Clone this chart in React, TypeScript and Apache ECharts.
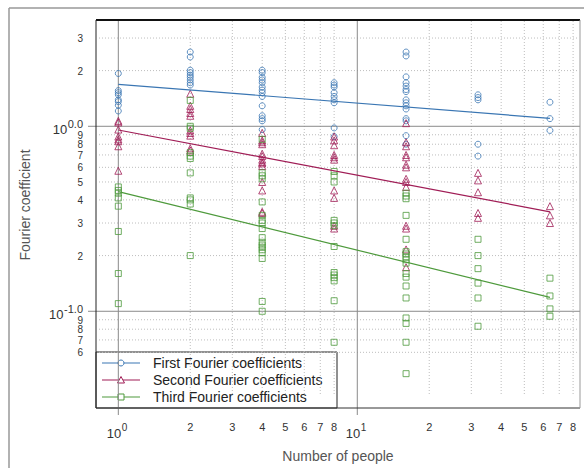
import React, { useEffect, useRef } from "react";
import * as echarts from "echarts";

// ---------- data ----------
const people = [1, 2, 4, 8, 16, 32, 64];

const firstCoef: number[][] = [
  [1.93, 1.56, 1.52, 1.48, 1.39, 1.36, 1.3, 1.21],
  [2.52, 2.37, 2.01, 1.95, 1.89, 1.84, 1.78, 1.72, 1.67],
  [2.01, 1.95, 1.84, 1.78, 1.72, 1.63, 1.57, 1.52, 1.45, 1.29, 1.14, 1.1, 1.07, 0.96],
  [1.72, 1.67, 1.63, 1.52, 1.45, 1.39, 1.34, 0.98, 0.88],
  [2.52, 2.4, 1.85, 1.72, 1.65, 1.58, 1.54, 1.39, 1.34, 1.29, 1.24, 1.1, 1.07, 0.89, 0.8],
  [1.48, 1.43, 1.39, 0.8, 0.69],
  [1.35, 1.1, 0.95],
];

const secondCoef: number[][] = [
  [1.07, 1.05, 0.96, 0.88, 0.85, 0.83, 0.78, 0.575],
  [1.5, 1.29, 1.24, 1.18, 1.14, 0.95, 0.92, 0.89, 0.76, 0.74],
  [0.92, 0.84, 0.82, 0.8, 0.71, 0.69, 0.66, 0.64, 0.63, 0.61, 0.5, 0.45, 0.345, 0.34],
  [0.88, 0.84, 0.79, 0.7, 0.68, 0.66, 0.45, 0.41, 0.29, 0.28],
  [1.04, 0.82, 0.78, 0.7, 0.68, 0.62, 0.6, 0.52, 0.5, 0.47, 0.29, 0.28, 0.216, 0.173],
  [0.56, 0.51, 0.44, 0.34, 0.32],
  [0.37, 0.33, 0.3],
];

const thirdCoef: number[][] = [
  [0.47, 0.45, 0.435, 0.41, 0.37, 0.27, 0.16, 0.11],
  [1.38, 1.0, 0.975, 0.72, 0.69, 0.67, 0.56, 0.41, 0.4, 0.38, 0.2],
  [0.85, 0.56, 0.54, 0.52, 0.39, 0.33, 0.31, 0.3, 0.28, 0.25, 0.236, 0.228, 0.222, 0.215, 0.207, 0.193, 0.113, 0.1],
  [0.57, 0.54, 0.5, 0.31, 0.3, 0.29, 0.224, 0.162, 0.157, 0.152, 0.146, 0.114, 0.068],
  [0.435, 0.42, 0.406, 0.33, 0.245, 0.21, 0.204, 0.197, 0.19, 0.182, 0.16, 0.153, 0.137, 0.118, 0.092, 0.086, 0.068, 0.046],
  [0.245, 0.2, 0.17, 0.142, 0.118, 0.083],
  [0.151, 0.121, 0.103, 0.094],
];

const fitX = [1, 64];
const firstFit = [1.687, 1.104];
const secondFit = [0.955, 0.345];
const thirdFit = [0.443, 0.119];

const seriesNames = [
  "First Fourier coefficients",
  "Second Fourier coefficients",
  "Third Fourier coefficients",
];

const xMinorTicks = [2, 3, 4, 5, 6, 7, 8, 20, 30, 40, 50, 60, 70, 80];
const xMinorLabels = ["2", "3", "4", "5", "6", "7", "8", "2", "3", "4", "5", "6", "7", "8"];
const xMajorTicks = [1, 10];
const xMajorExp = ["0", "1"];

const yMinorTicks = [3, 2, 0.9, 0.8, 0.7, 0.6, 0.5, 0.4, 0.3, 0.2, 0.09, 0.08, 0.07, 0.06];
const yMinorLabels = ["3", "2", "9", "8", "7", "6", "5", "4", "3", "2", "9", "8", "7", "6"];
const yMajorTicks = [1, 0.1];
const yMajorExp = ["0.0", "-1.0"];

const X_MIN = 0.8065;
const X_MAX = 85.5;
const Y_MIN = 0.03;
const Y_MAX = 3.755;
const DOTTED_FLOOR = 0.035;

// ---------- style ----------
const W = 584;
const H = 468;
const GRID = { left: 96, top: 20, right: 4, bottom: 60 };
const FONT = '"Liberation Sans", Arial, Helvetica, sans-serif';
const COLORS = ["#3a76b3", "#a01d56", "#4e9a3c"];
const SYMBOLS = ["circle", "triangle", "rect"];
const SYMBOL_SIZES = [6, 7, 6];
const TXT = "#333";
const MAJOR = "#8a8a8a";
const DOT = "#bdbdbd";

const charW: Record<string, number> = { "0": 0.556, "1": 0.556, ".": 0.278, "-": 0.333 };
const approxWidth = (s: string, size: number) =>
  s.split("").reduce((a, c) => a + (charW[c] ?? 0.556), 0) * size;

function textEl(text: string, x: number, y: number, size: number, align: string, vAlign = "middle", fill = TXT) {
  return {
    type: "text",
    style: {
      text,
      x,
      y,
      font: `${size}px ${FONT}`,
      fontSize: size,
      fontFamily: FONT,
      fill,
      align,
      verticalAlign: vAlign,
      textAlign: align,
      textVerticalAlign: vAlign,
    },
  };
}

function flatten(coef: number[][]) {
  const out: number[][] = [];
  people.forEach((x, i) => coef[i].forEach((v) => out.push([x, v])));
  return out;
}

export default function App() {
  const ref = useRef<HTMLDivElement>(null);

  useEffect(() => {
    if (!ref.current) return;
    const chart = echarts.init(ref.current, undefined, { renderer: "svg", width: W, height: H });

    const plotL = GRID.left;
    const plotT = GRID.top;
    const plotR = W - GRID.right;
    const plotB = H - GRID.bottom;

    const coefs = [firstCoef, secondCoef, thirdCoef];
    const fits = [firstFit, secondFit, thirdFit];

    const scatterSeries = coefs.map((c, i) => ({
      type: "scatter",
      name: seriesNames[i],
      data: flatten(c),
      symbol: SYMBOLS[i],
      symbolSize: SYMBOL_SIZES[i],
      itemStyle: { color: "rgba(0,0,0,0)", borderColor: COLORS[i], borderWidth: 1 },
      z: 3,
      silent: true,
    }));

    const lineSeries = fits.map((f, i) => ({
      type: "line",
      name: seriesNames[i] + " fit",
      data: fitX.map((x, j) => [x, f[j]]),
      symbol: "none",
      showSymbol: false,
      lineStyle: { color: COLORS[i], width: 1.2 },
      z: 4,
      silent: true,
    }));

    const xMinorSeries = {
      type: "custom",
      clip: false,
      silent: true,
      z: 1,
      data: xMinorTicks.map((v) => [v, 1]),
      renderItem: (params: any, api: any) => {
        const cs = params.coordSys;
        const p = api.coord([api.value(0), 1]);
        const floor = api.coord([api.value(0), DOTTED_FLOOR])[1];
        return {
          type: "group",
          children: [
            {
              type: "line",
              shape: { x1: p[0], y1: cs.y + 1, x2: p[0], y2: floor },
              style: { stroke: DOT, lineWidth: 1, lineDash: [1, 2] },
            },
            textEl(xMinorLabels[params.dataIndex], p[0], cs.y + cs.height + 19, 11, "center"),
          ],
        };
      },
    };

    const xMajorSeries = {
      type: "custom",
      clip: false,
      silent: true,
      z: 1,
      data: xMajorTicks.map((v) => [v, 1]),
      renderItem: (params: any, api: any) => {
        const cs = params.coordSys;
        const p = api.coord([api.value(0), 1]);
        return {
          type: "group",
          children: [
            {
              type: "line",
              shape: { x1: p[0], y1: cs.y, x2: p[0], y2: cs.y + cs.height + 7 },
              style: { stroke: MAJOR, lineWidth: 1 },
            },
            textEl("10", p[0] + 3, cs.y + cs.height + 25, 13, "right"),
            textEl(xMajorExp[params.dataIndex], p[0] + 3.5, cs.y + cs.height + 19, 10, "left"),
          ],
        };
      },
    };

    const yMinorSeries = {
      type: "custom",
      clip: false,
      silent: true,
      z: 1,
      data: yMinorTicks.map((v) => [1, v]),
      renderItem: (params: any, api: any) => {
        const cs = params.coordSys;
        const p = api.coord([1, api.value(1)]);
        return {
          type: "group",
          children: [
            {
              type: "line",
              shape: { x1: cs.x + 3, y1: p[1], x2: cs.x + cs.width - 3, y2: p[1] },
              style: { stroke: DOT, lineWidth: 1, lineDash: [1, 2] },
            },
            textEl(yMinorLabels[params.dataIndex], cs.x - 13, p[1] + 0.5, 10, "right"),
          ],
        };
      },
    };

    const yMajorSeries = {
      type: "custom",
      clip: false,
      silent: true,
      z: 1,
      data: yMajorTicks.map((v) => [1, v]),
      renderItem: (params: any, api: any) => {
        const cs = params.coordSys;
        const p = api.coord([1, api.value(1)]);
        const exp = yMajorExp[params.dataIndex];
        const supSize = 11;
        const supLeft = cs.x - 13 - approxWidth(exp, supSize);
        return {
          type: "group",
          children: [
            {
              type: "line",
              shape: { x1: cs.x - 8, y1: p[1], x2: cs.x + cs.width, y2: p[1] },
              style: { stroke: MAJOR, lineWidth: 1 },
            },
            textEl("10", supLeft - 0.5, p[1] + 3.5, 13, "right"),
            textEl(exp, supLeft, p[1] - 2, supSize, "left"),
          ],
        };
      },
    };

    // legend (drawn as graphic)
    const legL = plotL;
    const legT = 352;
    const legR = 337;
    const legRows = [363, 380, 397];
    const legendChildren: any[] = [
      {
        type: "rect",
        shape: { x: legL, y: legT, width: legR - legL, height: plotB - legT },
        style: { fill: "#fff", stroke: "#222", lineWidth: 1 },
      },
    ];
    legRows.forEach((y, i) => {
      const c = COLORS[i];
      legendChildren.push({
        type: "line",
        shape: { x1: legL + 6, y1: y, x2: legL + 44, y2: y },
        style: { stroke: c, lineWidth: 1.2 },
      });
      const mx = legL + 25;
      if (i === 0) {
        legendChildren.push({ type: "circle", shape: { cx: mx, cy: y, r: 3 }, style: { fill: "#fff", stroke: c, lineWidth: 1 } });
      } else if (i === 1) {
        legendChildren.push({
          type: "polygon",
          shape: { points: [[mx, y - 3.5], [mx + 3.5, y + 3], [mx - 3.5, y + 3]] },
          style: { fill: "#fff", stroke: c, lineWidth: 1 },
        });
      } else {
        legendChildren.push({ type: "rect", shape: { x: mx - 3, y: y - 3, width: 6, height: 6 }, style: { fill: "#fff", stroke: c, lineWidth: 1 } });
      }
      legendChildren.push(textEl(seriesNames[i], legL + 57, y, 14, "left", "middle", "#222"));
    });

    const option: any = {
      animation: false,
      backgroundColor: "#fff",
      grid: { left: GRID.left, top: GRID.top, right: GRID.right, bottom: GRID.bottom, show: false },
      xAxis: {
        type: "log",
        logBase: 10,
        min: X_MIN,
        max: X_MAX,
        axisLine: { show: false },
        axisTick: { show: false },
        axisLabel: { show: false },
        splitLine: { show: false },
      },
      yAxis: {
        type: "log",
        logBase: 10,
        min: Y_MIN,
        max: Y_MAX,
        axisLine: { show: false },
        axisTick: { show: false },
        axisLabel: { show: false },
        splitLine: { show: false },
      },
      series: [xMinorSeries, yMinorSeries, xMajorSeries, yMajorSeries, ...scatterSeries, ...lineSeries],
      graphic: [
        // outer frame
        { type: "line", z: 50, shape: { x1: 9, y1: 8, x2: W, y2: 8 }, style: { stroke: "#999", lineWidth: 1.5 } },
        { type: "line", z: 50, shape: { x1: 9, y1: 8, x2: 9, y2: H }, style: { stroke: "#999", lineWidth: 1.5 } },
        // plot border
        { type: "line", z: 50, shape: { x1: plotL, y1: plotT, x2: plotR, y2: plotT }, style: { stroke: "#111", lineWidth: 2 } },
        { type: "line", z: 50, shape: { x1: plotL, y1: plotT, x2: plotL, y2: plotB }, style: { stroke: "#222", lineWidth: 1 } },
        { type: "line", z: 50, shape: { x1: plotL, y1: plotB, x2: plotR, y2: plotB }, style: { stroke: "#333", lineWidth: 1 } },
        { type: "line", z: 50, shape: { x1: plotR, y1: plotT, x2: plotR, y2: plotB }, style: { stroke: "#999", lineWidth: 1 } },
        { type: "group", z: 60, children: legendChildren },
        {
          type: "text",
          z: 50,
          x: 25,
          y: 205,
          rotation: Math.PI / 2,
          style: {
            text: "Fourier coefficient",
            font: `14px ${FONT}`,
            fill: "#555",
            align: "center",
            verticalAlign: "middle",
            textAlign: "center",
            textVerticalAlign: "middle",
          },
        },
        {
          type: "text",
          z: 50,
          x: (plotL + plotR) / 2,
          y: 456,
          style: {
            text: "Number of people",
            font: `14px ${FONT}`,
            fill: "#555",
            align: "center",
            verticalAlign: "middle",
            textAlign: "center",
            textVerticalAlign: "middle",
          },
        },
      ],
    };

    chart.setOption(option);
    return () => chart.dispose();
  }, []);

  return (
    <div
      ref={ref}
      style={{ position: "fixed", left: 0, top: 0, width: W, height: H, background: "#fff" }}
    />
  );
}
